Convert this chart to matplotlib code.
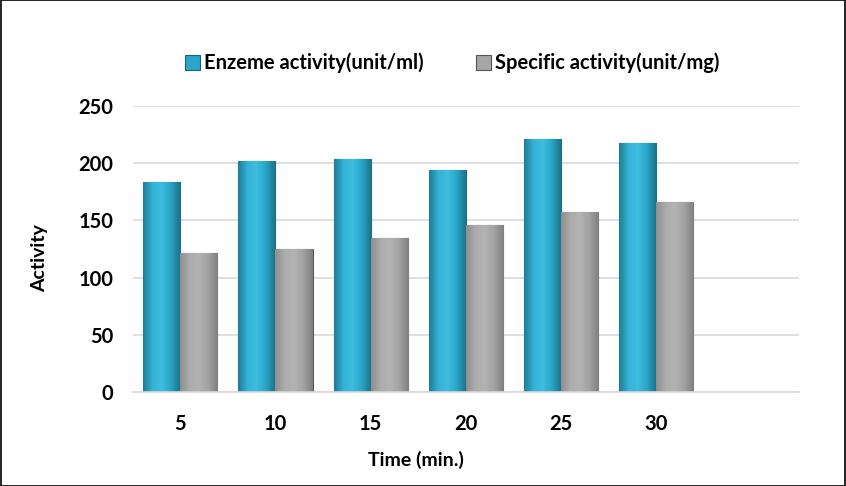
import numpy as np
import matplotlib
matplotlib.use("Agg")
import matplotlib.pyplot as plt
from matplotlib.colors import LinearSegmentedColormap

# data
times = ["5", "10", "15", "20", "25", "30"]
enzyme_activity = [184, 202, 204, 194, 221, 218]
specific_activity = [122, 125, 135, 146, 157, 166]

plt.rcParams['font.family'] = ['Lato', 'DejaVu Sans']
plt.rcParams['font.weight'] = 'bold'

fig = plt.figure(figsize=(8.46, 4.86), dpi=100)
ax = fig.add_axes([0.157, 0.193, 0.787, 0.589])

x = np.arange(len(times))
w = 0.39

blue_cmap = LinearSegmentedColormap.from_list("b", ["#1f7d97", "#35b3d6", "#3dbde0", "#2aa3c4", "#1b6f87"])
gray_cmap = LinearSegmentedColormap.from_list("g", ["#8f8f8f", "#acacac", "#b3b3b3", "#a2a2a2", "#808080"])

b1 = ax.bar(x - w/2, enzyme_activity, w, color="#2aa6c8", edgecolor="#1c5f70", linewidth=0.8, zorder=2)
b2 = ax.bar(x + w/2, specific_activity, w, color="#a6a6a6", edgecolor="#555555", linewidth=0.8, zorder=2)

grad = np.linspace(0, 1, 64).reshape(1, -1)
for bars, cmap in [(b1, blue_cmap), (b2, gray_cmap)]:
    for r in bars:
        x0, y0 = r.get_x(), r.get_y()
        im = ax.imshow(grad, cmap=cmap, extent=(x0, x0 + r.get_width(), y0, y0 + r.get_height()),
                       aspect='auto', zorder=2.5, interpolation='bilinear')
        im.set_clip_path(r)

ax.set_xlim(-0.5, 6.5)
ax.set_ylim(0, 250)
ax.set_yticks(range(0, 251, 50))
ax.set_xticks(x)
ax.set_xticklabels(times)
ax.yaxis.grid(True, color="#d9d9d9", linewidth=1.2, zorder=0)
ax.set_axisbelow(True)
for s in ["top", "right", "left"]:
    ax.spines[s].set_visible(False)
ax.spines["bottom"].set_color("#d9d9d9")
ax.spines["bottom"].set_linewidth(1.2)
ax.tick_params(axis='y', length=0, labelsize=14.5, pad=14)
ax.tick_params(axis='x', length=0, labelsize=14.5, pad=16)

fig.text(39.5/846, 1 - 258/486, "Activity", rotation=90, ha='center', va='center', fontsize=14, fontweight='bold')
fig.text(416/846, 1 - 460/486, "Time (min.)", ha='center', va='center', fontsize=14, fontweight='bold')

fig.legend([b1, b2], ["Enzeme activity(unit/ml)", "Specific activity(unit/mg)"],
           loc='center', bbox_to_anchor=(452/846, 1 - 63/486), ncol=2, frameon=False,
           fontsize=14.5, handlelength=0.75, handleheight=0.75, handletextpad=0.2, columnspacing=2.6)

fig.patches.append(plt.Rectangle((0.001, 0.001), 0.998, 0.998, transform=fig.transFigure,
                                 fill=False, edgecolor='black', linewidth=1.2))

fig.savefig("out.png", dpi=100)
